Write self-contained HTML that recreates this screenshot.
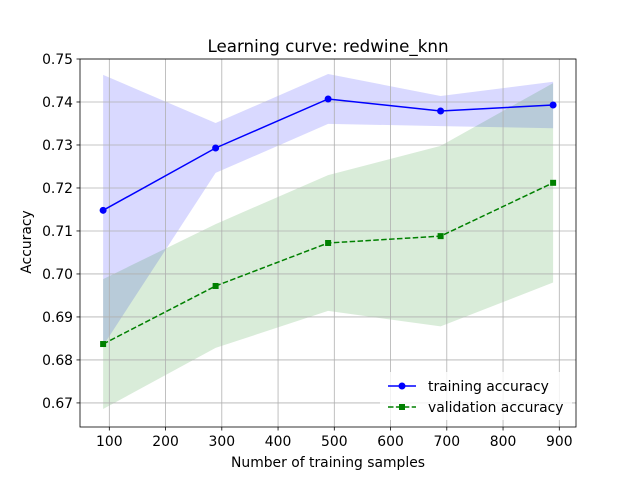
<!DOCTYPE html>
<html><head><meta charset="utf-8"><style>
body{margin:0;background:#fff}
text{font-family:"DejaVu Sans","Liberation Sans",sans-serif;fill:#000}
</style></head><body>
<svg id="chart" width="640" height="480" xmlns="http://www.w3.org/2000/svg">
<rect width="640" height="480" fill="#fff"/>
<text x="328" y="52" font-size="16.7" text-anchor="middle">Learning curve: redwine_knn</text>
<g id="fills"></g><g id="grid"></g><g id="series"></g><g id="axes"></g>
<text x="328" y="467" font-size="13.9" text-anchor="middle">Number of training samples</text>
<text transform="translate(31,242) rotate(-90)" font-size="13.9" text-anchor="middle">Accuracy</text>
<g>
<rect x="380" y="372" width="192" height="48" fill="#fff" fill-opacity="0.8" rx="2"/>
<line x1="388" y1="386" x2="416" y2="386" stroke="#0000ff" stroke-width="1.5"/>
<circle cx="402" cy="386" r="3.5" fill="#0000ff"/>
<text x="428" y="391" font-size="13.9">training accuracy</text>
<line x1="388" y1="407" x2="416" y2="407" stroke="#008000" stroke-width="1.5" stroke-dasharray="5.5,2.4"/>
<rect x="399" y="404" width="6" height="6" fill="#008000"/>
<text x="428" y="412" font-size="13.9">validation accuracy</text>
</g>
</svg>
<script>
const sizes=[89,289,489,689,889];
const trainMean=[0.7148,0.7293,0.7407,0.7379,0.7393];
const trainStd=[0.0315,0.0058,0.0058,0.0035,0.0054];
const valMean=[0.6837,0.6972,0.7072,0.7088,0.7212];
const valStd=[0.0151,0.0144,0.0158,0.0210,0.0232];
const xTicks=[100,200,300,400,500,600,700,800,900];
const yTicks=[0.67,0.68,0.69,0.70,0.71,0.72,0.73,0.74,0.75];
const L=80,R=576,T=59,B=427,x0=47.9,x1=929.7,y0=0.6644,y1=0.75;
const X=v=>L+(v-x0)/(x1-x0)*(R-L);
const Y=v=>B-(v-y0)/(y1-y0)*(B-T);
const NS='http://www.w3.org/2000/svg';
function mk(t,a,p){const e=document.createElementNS(NS,t);for(const k in a)e.setAttribute(k,a[k]);p.appendChild(e);return e;}
const fills=document.getElementById('fills'),grid=document.getElementById('grid'),ser=document.getElementById('series'),ax=document.getElementById('axes');
function band(m,s,c,name){
 const up=sizes.map((v,i)=>X(v)+','+Y(m[i]+s[i]));
 const lo=sizes.map((v,i)=>X(v)+','+Y(m[i]-s[i])).reverse();
 const p=mk('polygon',{points:up.concat(lo).join(' '),fill:c,'fill-opacity':0.15},fills);
 
 
}
band(trainMean,trainStd,'#0000ff','training-std-band');
band(valMean,valStd,'#008000','validation-std-band');
xTicks.forEach(t=>{
 const g=mk('line',{x1:X(t),x2:X(t),y1:T,y2:B,stroke:'#b0b0b0','stroke-width':0.8},grid);
 
 
 mk('line',{x1:X(t),x2:X(t),y1:B,y2:B+3.5,stroke:'#000','stroke-width':0.8},ax);
 const tx=mk('text',{x:X(t),y:B+19,'font-size':13.9,'text-anchor':'middle'},ax);tx.textContent=t;
 
 
});
yTicks.forEach(t=>{
 const g=mk('line',{x1:L,x2:R,y1:Y(t),y2:Y(t),stroke:'#b0b0b0','stroke-width':0.8},grid);
 
 
 mk('line',{x1:L-3.5,x2:L,y1:Y(t),y2:Y(t),stroke:'#000','stroke-width':0.8},ax);
 const tx=mk('text',{x:L-7,y:Y(t)+5,'font-size':13.9,'text-anchor':'end'},ax);tx.textContent=t.toFixed(2);
 
 
});
const fr=mk('rect',{x:L,y:T,width:R-L,height:B-T,fill:'none',stroke:'#000','stroke-width':0.8},ax);


const tl=mk('polyline',{points:sizes.map((v,i)=>X(v)+','+Y(trainMean[i])).join(' '),fill:'none',stroke:'#0000ff','stroke-width':1.5},ser);


const vl=mk('polyline',{points:sizes.map((v,i)=>X(v)+','+Y(valMean[i])).join(' '),fill:'none',stroke:'#008000','stroke-width':1.5,'stroke-dasharray':'5.5,2.4'},ser);


sizes.forEach((v,i)=>{
 const c=mk('circle',{cx:X(v),cy:Y(trainMean[i]),r:3.5,fill:'#0000ff'},ser);
 
 
 const s=mk('rect',{x:X(v)-3,y:Y(valMean[i])-3,width:6,height:6,fill:'#008000'},ser);
 
 
});
</script>
</body></html>
